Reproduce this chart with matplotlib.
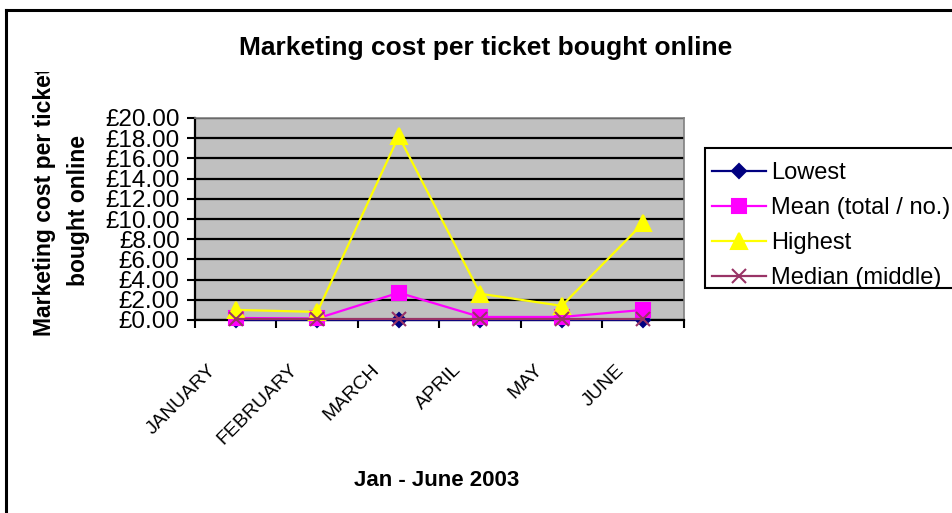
import matplotlib
matplotlib.use("Agg")
import matplotlib.pyplot as plt
from matplotlib.lines import Line2D
from matplotlib.patches import Rectangle
from matplotlib.transforms import Bbox, ScaledTranslation
from matplotlib.ticker import FixedLocator, NullFormatter

plt.rcParams["font.family"] = ["Liberation Sans", "DejaVu Sans"]

# cost per online ticket, Jan-Jun 2003 (GBP)
months = ["JANUARY", "FEBRUARY", "MARCH", "APRIL", "MAY", "JUNE"]
lowest = [0.0, 0.0, 0.0, 0.0, 0.0, 0.0]
mean = [0.2, 0.15, 2.7, 0.3, 0.3, 1.0]
highest = [1.0, 0.8, 18.2, 2.6, 1.4, 9.6]
median = [0.05, 0.05, 0.05, 0.05, 0.05, 0.05]
y_ticks = [0, 2, 4, 6, 8, 10, 12, 14, 16, 18, 20]

W, H = 953, 513
fig = plt.figure(figsize=(W / 100, H / 100), dpi=100)
fig.patch.set_facecolor("white")

# chart area border (top and left edges visible)
fig.add_artist(Line2D([6 / W, 6 / W], [0, 1 - 10 / H], color="black", lw=2.2))
fig.add_artist(Line2D([6 / W, 1], [1 - 10 / H, 1 - 10 / H], color="black", lw=2.2))

ax = fig.add_axes([195 / W, 1 - 320 / H, 489 / W, 202 / H])
ax.set_facecolor("#C0C0C0")

x = list(range(len(months)))
series = [
    ("Lowest", lowest, "#000080", "D", 7),
    ("Mean (total / no.)", mean, "#FF00FF", "s", 10),
    ("Highest", highest, "#FFFF00", "^", 11),
    ("Median (middle)", median, "#993366", "x", 10),
]
handles = []
for i, (name, vals, col, mk, ms) in enumerate(series):
    (h,) = ax.plot(x, vals, color=col, lw=1.6, marker=mk, markersize=ms,
                   markerfacecolor=col, markeredgecolor=col, markeredgewidth=1.5,
                   label=name, clip_on=False, zorder=3 + i)
    handles.append(h)

ax.set_xlim(-0.5, len(months) - 0.5)
ax.set_ylim(0, 20)
ax.set_yticks(y_ticks)
ax.set_yticklabels([f"£{v:.2f}" for v in y_ticks], fontsize=17.5)
ax.yaxis.grid(True, color="black", lw=1.6)
ax.set_axisbelow(True)

# tick marks sit between categories, labels at category centres
ax.xaxis.set_major_locator(FixedLocator([i - 0.5 for i in range(len(months) + 1)]))
ax.xaxis.set_major_formatter(NullFormatter())
ax.xaxis.set_minor_locator(FixedLocator(x))
ax.set_xticklabels(months, minor=True, rotation=45, ha="right",
                   rotation_mode="anchor", fontsize=14)
ax.tick_params(axis="x", which="minor", length=0, pad=14)
ax.tick_params(axis="both", which="major", direction="out", length=6,
               width=1.5, color="black")
ax.tick_params(axis="y", pad=5)
shift = ScaledTranslation(-28 / 100, -22 / 100, fig.dpi_scale_trans)
for lab in ax.get_xticklabels(minor=True):
    lab.set_transform(lab.get_transform() + shift)

for side in ("top", "right"):
    ax.spines[side].set_color("#808080")
    ax.spines[side].set_linewidth(1.2)
for side in ("left", "bottom"):
    ax.spines[side].set_color("black")
    ax.spines[side].set_linewidth(1.6)

fig.text(486 / W, 1 - 48 / H, "Marketing cost per ticket bought online",
         ha="center", va="center", fontsize=19, fontweight="bold")
fig.text(437 / W, 1 - 480 / H, "Jan - June 2003",
         ha="center", va="center", fontsize=16, fontweight="bold")

clip = Bbox([[0, 0], [W, H - 72]])
for xp, yp, line in ((45, 201, "Marketing cost per ticket"), (79, 210, "bought online")):
    t = fig.text(xp / W, 1 - yp / H, line, rotation=90, ha="center",
                 va="center", fontsize=16.5, fontweight="bold")
    t.set_clip_box(clip)
    t.set_clip_on(True)

# legend box runs off the right edge
fig.add_artist(Rectangle((705 / W, 1 - 288 / H), 260 / W, 140 / H,
                         transform=fig.transFigure, facecolor="white",
                         edgecolor="black", lw=1.5, clip_on=False))
leg = fig.legend(handles=handles, loc="upper left",
                 bbox_to_anchor=(712 / W, 1 - 162 / H), fontsize=17,
                 frameon=False, handlelength=2.3, handletextpad=0.2,
                 labelspacing=0.55, borderpad=0, borderaxespad=0)
leg.set_zorder(5)

fig.savefig("out.png", dpi=100)
